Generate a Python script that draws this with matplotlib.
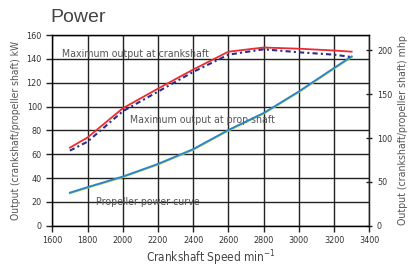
import numpy as np
import matplotlib
matplotlib.use("Agg")
import matplotlib.pyplot as plt
import matplotlib.transforms as mtransforms

plt.rcParams['font.family'] = ['DejaVu Sans']
plt.rcParams['font.stretch'] = 'condensed'

# Crankshaft speed (min-1)
speed = [1700, 1800, 2000, 2200, 2400, 2600, 2800, 3000, 3200, 3300]

# Output in kW
crank_kw = [65.5, 74, 98.5, 115, 131, 146, 149.5, 148.5, 147, 146]
prop_kw = [63, 70.5, 96, 112.5, 129, 143.5, 148, 145.5, 143.5, 141.5]
curve_kw = [27.7, 32.3, 41.2, 51.8, 64.2, 80.3, 94.5, 112.6, 132.3, 142]

kw_per_mhp = 0.7355
grey = '#555555'

fig = plt.figure(figsize=(4.1, 2.68), dpi=100)
ax = fig.add_axes([0.1276, 0.1578, 0.9007 - 0.1276, 0.8694 - 0.1578])

shift = mtransforms.offset_copy(ax.transData, fig=fig, x=0, y=-0.7, units='dots')
ax.plot(speed, curve_kw, color='#c8d84a', lw=1.3, zorder=3, transform=shift)
ax.plot(speed, curve_kw, color='#2a86c8', lw=1.4, zorder=4)
ax.plot(speed, crank_kw, color='#ee2a30', lw=1.3, zorder=4)
ax.plot(speed, prop_kw, color='#2a2f8f', lw=1.5, ls=(0, (2.5, 1.5, 1, 1.5)), zorder=5)

ax.set_xlim(1600, 3400)
ax.set_ylim(0, 160)
ax.set_xticks(np.arange(1600, 3401, 200))
ax.set_yticks(np.arange(0, 161, 20))
ax.grid(True, color='#222222', lw=1.0)
ax.set_axisbelow(True)
for s in ax.spines.values():
    s.set_color('#222222')
    s.set_linewidth(1.0)
ax.tick_params(labelsize=6.5, colors='#222222', length=4, width=1, labelcolor='#333333')

ax.set_xlabel('Crankshaft Speed min$^{-1}$', fontsize=8.5, color='#444444', labelpad=2)
ax.set_ylabel('Output (crankshaft/propeller shaft) kW', fontsize=7.4, color=grey, labelpad=4)

ax2 = ax.twinx()
ax2.set_ylim(0, 160 / kw_per_mhp)
ax2.set_yticks([0, 50, 100, 150, 200])
ax2.tick_params(labelsize=6.5, colors='#222222', length=4, width=1, direction='inout',
                labelcolor='#333333')
ax2.spines['right'].set_color('#222222')
ax2.set_ylabel('Output (crankshaft/propeller shaft) mhp', fontsize=7.6, color=grey, labelpad=4)

ax.text(1653, 144, 'Maximum output at crankshaft', fontsize=7.6, color=grey, va='center')
ax.text(2041, 88.8, 'Maximum output at prop shaft', fontsize=7.6, color=grey, va='center')
ax.text(1848, 20.2, 'Propeller power curve', fontsize=7.6, color=grey, va='center')

fig.text(0.122, 0.935, 'Power', fontsize=14, color='#444444', va='center',
         family='Liberation Sans', stretch='normal')

fig.savefig('out.png', dpi=100)
